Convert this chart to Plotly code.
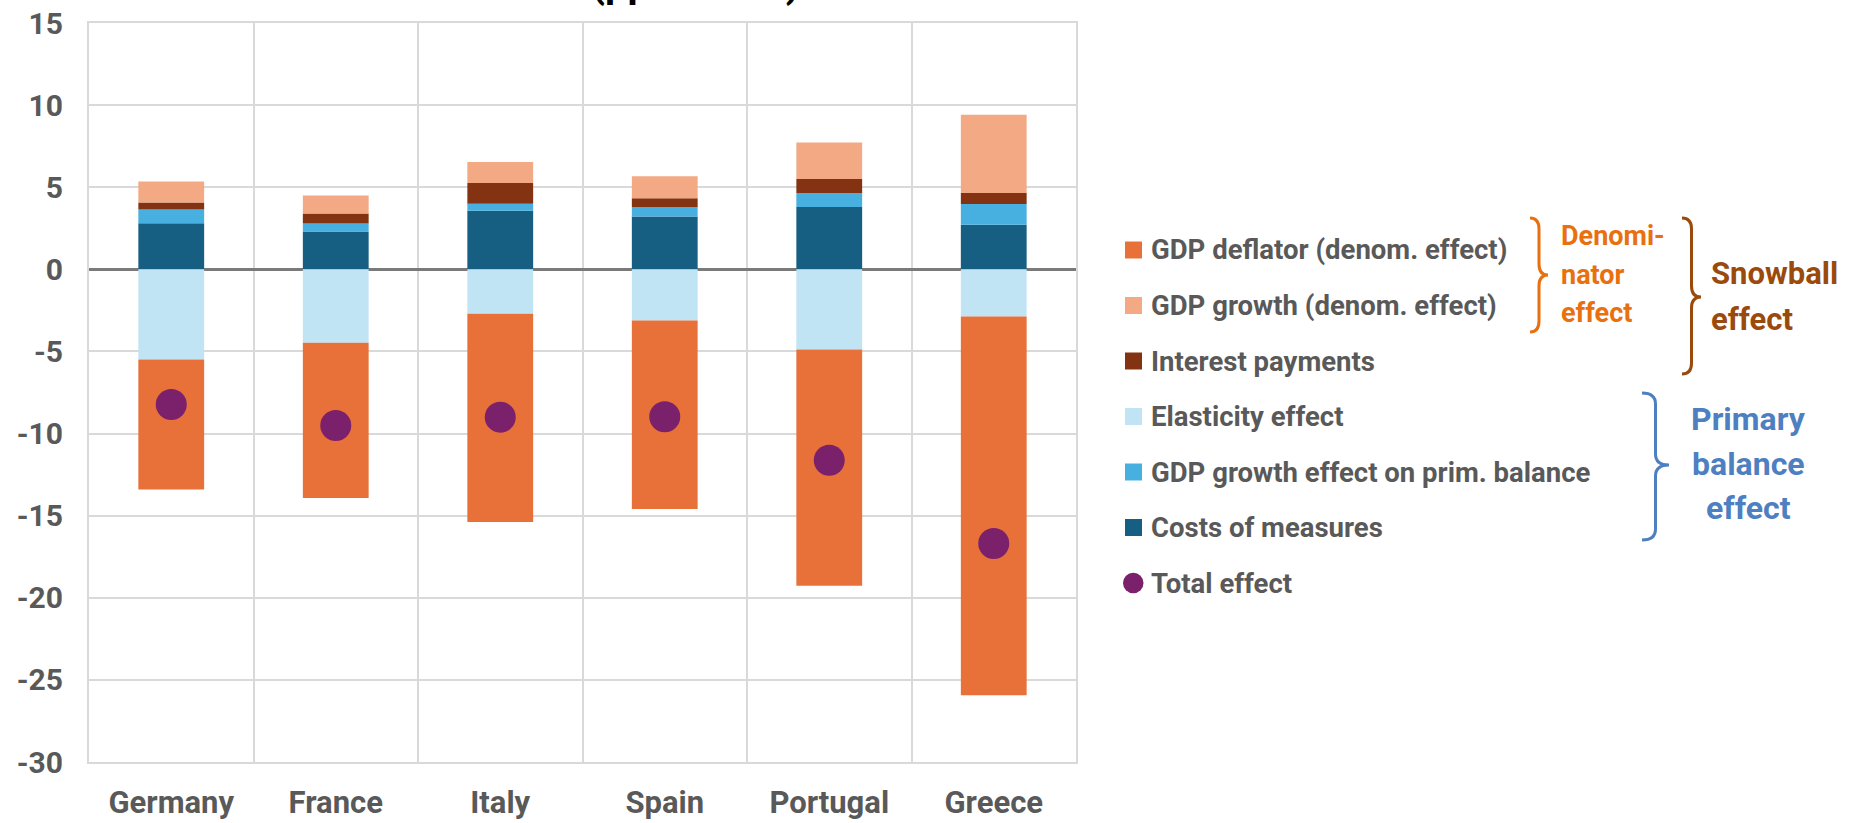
import plotly.graph_objects as go

# ---- data (pp of GDP) ----
countries = ["Germany", "France", "Italy", "Spain", "Portugal", "Greece"]
costs_of_measures = [2.80, 2.30, 3.56, 3.21, 3.80, 2.72]
gdp_growth_prim = [0.84, 0.49, 0.43, 0.59, 0.85, 1.26]
interest_payments = [0.43, 0.61, 1.26, 0.53, 0.85, 0.67]
gdp_growth_denom = [1.28, 1.10, 1.28, 1.34, 2.22, 4.76]
elasticity_effect = [-5.49, -4.47, -2.70, -3.11, -4.88, -2.87]
gdp_deflator_denom = [-7.92, -9.45, -12.68, -11.48, -14.39, -23.07]
total_effect = [-8.23, -9.51, -9.00, -8.98, -11.63, -16.69]

y_ticks = [15, 10, 5, 0, -5, -10, -15, -20, -25, -30]

# ---- styling ----
FONT = "Roboto"
GREY = "#595959"
GRID = "#D9D9D9"
C_DEFLATOR = "#E8713A"
C_GROWTH_DENOM = "#F2A984"
C_INTEREST = "#843312"
C_ELASTICITY = "#C1E4F4"
C_GROWTH_PRIM = "#47B0E0"
C_COSTS = "#175F82"
C_TOTAL = "#7B206B"
C_ORANGE_TXT = "#E8700F"
C_BROWN_TXT = "#9A4A0C"
C_BLUE_TXT = "#4E7FC1"

W, H = 1858, 823
L, R, T, B = 89, 1076, 23, 762   # plot area in pixels


def fx(px):
    return (px - L) / (R - L)


def fy(py):
    return (B - py) / (B - T)


fig = go.Figure()

# stacking order: positive parts from zero upwards, negative parts from zero downwards
bar_series = [
    ("Costs of measures", costs_of_measures, C_COSTS),
    ("GDP growth effect on prim. balance", gdp_growth_prim, C_GROWTH_PRIM),
    ("Interest payments", interest_payments, C_INTEREST),
    ("GDP growth (denom. effect)", gdp_growth_denom, C_GROWTH_DENOM),
    ("Elasticity effect", elasticity_effect, C_ELASTICITY),
    ("GDP deflator (denom. effect)", gdp_deflator_denom, C_DEFLATOR),
]
for name, vals, col in bar_series:
    fig.add_trace(go.Bar(
        x=countries, y=vals, name=name, width=0.4,
        marker=dict(color=col, line=dict(width=0)),
        showlegend=False,
    ))

fig.add_trace(go.Scatter(
    x=countries, y=total_effect, name="Total effect", mode="markers",
    marker=dict(color=C_TOTAL, size=31, line=dict(width=0)),
    showlegend=False,
))

# ---- legend drawn beside the plot ----
legend_items = [
    ("GDP deflator (denom. effect)", C_DEFLATOR, "square"),
    ("GDP growth (denom. effect)", C_GROWTH_DENOM, "square"),
    ("Interest payments", C_INTEREST, "square"),
    ("Elasticity effect", C_ELASTICITY, "square"),
    ("GDP growth effect on prim. balance", C_GROWTH_PRIM, "square"),
    ("Costs of measures", C_COSTS, "square"),
    ("Total effect", C_TOTAL, "circle"),
]
shapes = []
annotations = []
for i, (label, col, sym) in enumerate(legend_items):
    cy = 250 + 55.5 * i
    if sym == "square":
        shapes.append(dict(type="rect", xref="paper", yref="paper",
                           x0=fx(1125), x1=fx(1142), y0=fy(cy + 8.5), y1=fy(cy - 8.5),
                           fillcolor=col, line=dict(width=0)))
    else:
        shapes.append(dict(type="circle", xref="paper", yref="paper",
                           x0=fx(1123), x1=fx(1143.5), y0=fy(cy + 10.3), y1=fy(cy - 10.3),
                           fillcolor=col, line=dict(width=0)))
    annotations.append(dict(text=label, xref="paper", yref="paper",
                            x=fx(1149), y=fy(cy), xanchor="left", yanchor="middle",
                            showarrow=False,
                            font=dict(family=FONT, size=27.5, color=GREY, weight="bold")))


def brace(x0, x1, y0, y1, ym, r=11):
    xm = (x0 + x1) / 2
    pts = [
        f"M {fx(x0)},{fy(y0)}",
        f"Q {fx(xm)},{fy(y0)} {fx(xm)},{fy(y0 + r)}",
        f"L {fx(xm)},{fy(ym - r)}",
        f"Q {fx(xm)},{fy(ym)} {fx(x1)},{fy(ym)}",
        f"Q {fx(xm)},{fy(ym)} {fx(xm)},{fy(ym + r)}",
        f"L {fx(xm)},{fy(y1 - r)}",
        f"Q {fx(xm)},{fy(y1)} {fx(x0)},{fy(y1)}",
    ]
    return " ".join(pts)


for (x0, x1, y0, y1, ym, col) in [
    (1530, 1548, 218, 332, 275, C_ORANGE_TXT),
    (1682, 1701, 218, 374, 297, C_BROWN_TXT),
    (1642, 1669, 393, 540, 465, C_BLUE_TXT),
]:
    shapes.append(dict(type="path", xref="paper", yref="paper",
                       path=brace(x0, x1, y0, y1, ym),
                       line=dict(color=col, width=3)))

for text, x, y, col, size, anchor in [
    ("Denomi-", 1559, 236, C_ORANGE_TXT, 27, "left"),
    ("nator", 1559, 275, C_ORANGE_TXT, 27, "left"),
    ("effect", 1559, 313, C_ORANGE_TXT, 27, "left"),
    ("Snowball", 1709, 273, C_BROWN_TXT, 31, "left"),
    ("effect", 1709, 319, C_BROWN_TXT, 31, "left"),
    ("Primary", 1748, 419, C_BLUE_TXT, 32, "center"),
    ("balance", 1748, 464, C_BLUE_TXT, 32, "center"),
    ("effect", 1748, 508, C_BLUE_TXT, 32, "center"),
]:
    annotations.append(dict(text=text, xref="paper", yref="paper",
                            x=fx(x), y=fy(y), xanchor=anchor, yanchor="middle",
                            showarrow=False,
                            font=dict(family=FONT, size=size, color=col, weight="bold")))

# chart title, running off the top edge
annotations.append(dict(text="(pp of GDP)", xref="paper", yref="paper",
                        x=fx(695), y=fy(9), xanchor="center", yanchor="bottom",
                        showarrow=False,
                        font=dict(family=FONT, size=40, color="#000000", weight="bold")))

fig.update_layout(
    width=W, height=H,
    margin=dict(l=L, r=W - R, t=T, b=H - B, pad=0),
    paper_bgcolor="white", plot_bgcolor="white",
    barmode="relative", bargap=0.6,
    showlegend=False,
    shapes=shapes, annotations=annotations,
    font=dict(family=FONT, color=GREY),
)
fig.update_xaxes(
    type="category", tickson="boundaries", showgrid=True, automargin=False,
    gridcolor=GRID, gridwidth=2, ticks="", zeroline=False,
    showline=True, mirror=True, linecolor=GRID, linewidth=2,
    ticklabelstandoff=12,
    tickfont=dict(family=FONT, size=31, color=GREY, weight="bold"),
)
fig.update_yaxes(
    range=[-30, 15], tickvals=y_ticks, ticktext=[str(v) for v in y_ticks],
    showgrid=True, gridcolor=GRID, gridwidth=2, automargin=False,
    zeroline=True, zerolinecolor="#7A7A7A", zerolinewidth=3,
    ticks="", showline=True, mirror=True, linecolor=GRID, linewidth=2,
    ticklabelstandoff=18,
    tickfont=dict(family=FONT, size=30, color=GREY, weight="bold"),
)

fig.write_html("out.html")
